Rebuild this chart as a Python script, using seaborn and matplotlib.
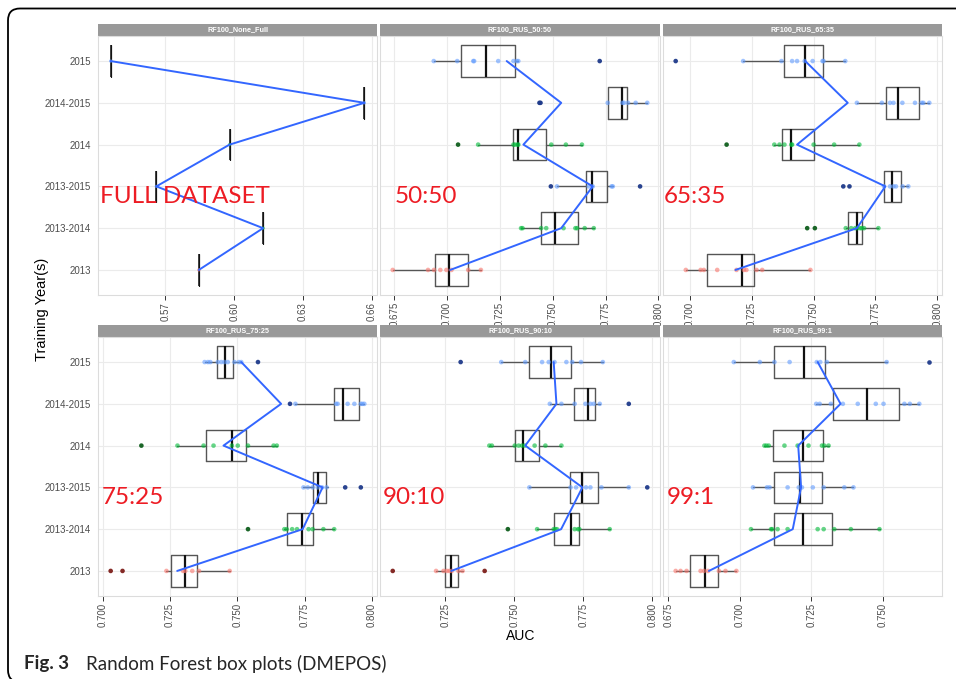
import numpy as np
import pandas as pd
import matplotlib
matplotlib.use("Agg")
import matplotlib.pyplot as plt
import seaborn as sns
from matplotlib.patches import Rectangle, FancyBboxPatch
from matplotlib.ticker import FixedLocator, MultipleLocator, FormatStrFormatter

# Training windows, listed from the top row of each panel to the bottom row
years = ["2015", "2014-2015", "2014", "2013-2015", "2013-2014", "2013"]
panels = ["RF100_None_Full", "RF100_RUS_50:50", "RF100_RUS_65:35",
          "RF100_RUS_75:25", "RF100_RUS_90:10", "RF100_RUS_99:1"]
ratio_tags = ["FULL DATASET", "50:50", "65:35", "75:25", "90:10", "99:1"]

# Full (non-sampled) dataset: a single AUC per training window
full_auc = [0.5462, 0.6567, 0.5980, 0.5661, 0.6126, 0.5846]

# Box statistics per sampling ratio (same row order as `years`)
whisker_lo = {
    "RF100_RUS_50:50": [0.6937, 0.7760, 0.7147, 0.7520, 0.7350, 0.6743],
    "RF100_RUS_65:35": [0.7215, 0.7675, 0.7341, 0.7784, 0.7630, 0.6983],
    "RF100_RUS_75:25": [0.7379, 0.7716, 0.7278, 0.7746, 0.7675, 0.7237],
    "RF100_RUS_90:10": [0.7453, 0.7629, 0.7410, 0.7555, 0.7583, 0.7217],
    "RF100_RUS_99:1":  [0.6979, 0.7267, 0.7086, 0.7046, 0.7039, 0.6776],
}
quart_1 = {
    "RF100_RUS_50:50": [0.7068, 0.7760, 0.7314, 0.7657, 0.7445, 0.6945],
    "RF100_RUS_65:35": [0.7379, 0.7792, 0.7372, 0.7784, 0.7638, 0.7070],
    "RF100_RUS_75:25": [0.7425, 0.7858, 0.7385, 0.7783, 0.7685, 0.7253],
    "RF100_RUS_90:10": [0.7555, 0.7718, 0.7502, 0.7701, 0.7644, 0.7248],
    "RF100_RUS_99:1":  [0.7118, 0.7327, 0.7116, 0.7121, 0.7118, 0.6826],
}
median = {
    "RF100_RUS_50:50": [0.7184, 0.7829, 0.7334, 0.7686, 0.7512, 0.7008],
    "RF100_RUS_65:35": [0.7464, 0.7843, 0.7410, 0.7816, 0.7677, 0.7211],
    "RF100_RUS_75:25": [0.7453, 0.7894, 0.7480, 0.7799, 0.7741, 0.7307],
    "RF100_RUS_90:10": [0.7635, 0.7767, 0.7532, 0.7745, 0.7704, 0.7272],
    "RF100_RUS_99:1":  [0.7223, 0.7444, 0.7221, 0.7209, 0.7221, 0.6880],
}
quart_3 = {
    "RF100_RUS_50:50": [0.7322, 0.7849, 0.7467, 0.7757, 0.7618, 0.7100],
    "RF100_RUS_65:35": [0.7538, 0.7927, 0.7501, 0.7852, 0.7695, 0.7259],
    "RF100_RUS_75:25": [0.7486, 0.7954, 0.7533, 0.7830, 0.7780, 0.7352],
    "RF100_RUS_90:10": [0.7704, 0.7791, 0.7591, 0.7804, 0.7734, 0.7296],
    "RF100_RUS_99:1":  [0.7298, 0.7556, 0.7290, 0.7286, 0.7322, 0.6923],
}
whisker_hi = {
    "RF100_RUS_50:50": [0.7337, 0.7947, 0.7638, 0.7784, 0.7694, 0.7160],
    "RF100_RUS_65:35": [0.7628, 0.7968, 0.7685, 0.7883, 0.7762, 0.7487],
    "RF100_RUS_75:25": [0.7515, 0.7972, 0.7647, 0.7836, 0.7860, 0.7472],
    "RF100_RUS_90:10": [0.7821, 0.7810, 0.7671, 0.7915, 0.7846, 0.7313],
    "RF100_RUS_99:1":  [0.7513, 0.7627, 0.7313, 0.7397, 0.7488, 0.6988],
}
mean_auc = {
    "RF100_RUS_50:50": [0.7282, 0.7540, 0.7361, 0.7689, 0.7540, 0.7015],
    "RF100_RUS_65:35": [0.7466, 0.7638, 0.7433, 0.7790, 0.7675, 0.7184],
    "RF100_RUS_75:25": [0.7515, 0.7663, 0.7449, 0.7817, 0.7743, 0.7277],
    "RF100_RUS_90:10": [0.7643, 0.7653, 0.7540, 0.7747, 0.7670, 0.7272],
    "RF100_RUS_99:1":  [0.7272, 0.7352, 0.7204, 0.7214, 0.7185, 0.6892],
}

# Individual run AUCs
runs = {
    "RF100_RUS_50:50": [
        [0.6937, 0.7048, 0.7124, 0.7128, 0.7242, 0.7314, 0.7330, 0.7337],
        [0.7760, 0.7829, 0.7837, 0.7856, 0.7892, 0.7947],
        [0.7147, 0.7314, 0.7322, 0.7334, 0.7337, 0.7493, 0.7562, 0.7638],
        [0.7520, 0.7670, 0.7689, 0.7778, 0.7784],
        [0.7350, 0.7357, 0.7445, 0.7469, 0.7551, 0.7607, 0.7615, 0.7651, 0.7694],
        [0.6743, 0.6910, 0.6938, 0.6968, 0.6997, 0.7021, 0.7100, 0.7160],
    ],
    "RF100_RUS_65:35": [
        [0.7215, 0.7370, 0.7413, 0.7433, 0.7464, 0.7496, 0.7536, 0.7540, 0.7628],
        [0.7675, 0.7776, 0.7809, 0.7823, 0.7859, 0.7910, 0.7937, 0.7944, 0.7968],
        [0.7341, 0.7362, 0.7382, 0.7410, 0.7413, 0.7500, 0.7583, 0.7685],
        [0.7785, 0.7809, 0.7823, 0.7833, 0.7860, 0.7883],
        [0.7630, 0.7652, 0.7668, 0.7677, 0.7688, 0.7695, 0.7704, 0.7762],
        [0.6983, 0.7043, 0.7056, 0.7110, 0.7188, 0.7218, 0.7228, 0.7269, 0.7292, 0.7487],
    ],
    "RF100_RUS_75:25": [
        [0.7379, 0.7391, 0.7400, 0.7428, 0.7441, 0.7453, 0.7465, 0.7490, 0.7506, 0.7515],
        [0.7716, 0.7867, 0.7873, 0.7910, 0.7935, 0.7959, 0.7965, 0.7972],
        [0.7278, 0.7375, 0.7412, 0.7480, 0.7502, 0.7540, 0.7635, 0.7647],
        [0.7746, 0.7762, 0.7780, 0.7799, 0.7815, 0.7832],
        [0.7675, 0.7684, 0.7704, 0.7722, 0.7765, 0.7780, 0.7820, 0.7860],
        [0.7237, 0.7299, 0.7307, 0.7333, 0.7358, 0.7472],
    ],
    "RF100_RUS_90:10": [
        [0.7453, 0.7540, 0.7601, 0.7625, 0.7646, 0.7689, 0.7710, 0.7742, 0.7821],
        [0.7629, 0.7671, 0.7719, 0.7758, 0.7776, 0.7788, 0.7810],
        [0.7410, 0.7419, 0.7502, 0.7516, 0.7528, 0.7538, 0.7574, 0.7613, 0.7671],
        [0.7555, 0.7704, 0.7724, 0.7760, 0.7776, 0.7816, 0.7915],
        [0.7583, 0.7643, 0.7649, 0.7655, 0.7719, 0.7731, 0.7736, 0.7846],
        [0.7217, 0.7244, 0.7256, 0.7265, 0.7274, 0.7298, 0.7313],
    ],
    "RF100_RUS_99:1": [
        [0.6979, 0.7070, 0.7121, 0.7174, 0.7269, 0.7281, 0.7304, 0.7513],
        [0.7267, 0.7279, 0.7318, 0.7360, 0.7412, 0.7475, 0.7502, 0.7575, 0.7594, 0.7627],
        [0.7086, 0.7093, 0.7101, 0.7156, 0.7202, 0.7240, 0.7287, 0.7295, 0.7310],
        [0.7046, 0.7095, 0.7104, 0.7167, 0.7206, 0.7217, 0.7255, 0.7293, 0.7365, 0.7397],
        [0.7039, 0.7109, 0.7113, 0.7132, 0.7167, 0.7272, 0.7293, 0.7330, 0.7388, 0.7488],
        [0.6776, 0.6793, 0.6814, 0.6863, 0.6875, 0.6889, 0.6927, 0.6950, 0.6988],
    ],
}
outlier_runs = {
    "RF100_RUS_50:50": [[0.7722], [0.7437, 0.7442], [0.7052], [0.7491, 0.7913], [], []],
    "RF100_RUS_65:35": [[0.6942], [], [0.7148], [0.7620, 0.7645], [0.7474, 0.7505], []],
    "RF100_RUS_75:25": [[0.7577], [0.7696], [0.7144], [0.7901, 0.7959], [0.7540], [0.7030, 0.7074]],
    "RF100_RUS_90:10": [[0.7306], [0.7915], [], [0.7982], [0.7477], [0.7060, 0.7393]],
    "RF100_RUS_99:1":  [[0.7662], [], [], [], [], []],
}

# Point colours per training window (light for runs, dark for outliers)
light_pal = {"2013": "#F8766D", "2013-2014": "#00BA38", "2014": "#00BA38",
             "2013-2015": "#619CFF", "2014-2015": "#619CFF", "2015": "#619CFF"}
dark_pal = {"2013": "#7E1E1A", "2013-2014": "#0E5E1C", "2014": "#0E5E1C",
            "2013-2015": "#1E3A8A", "2014-2015": "#1E3A8A", "2015": "#1E3A8A"}

tag_x = [0.007, 0.054, 0.004, 0.013, 0.011, 0.014]

sns.set_style("white")
plt.rcParams["font.family"] = ["Liberation Sans", "DejaVu Sans"]

W, H = 956, 679
fig = plt.figure(figsize=(W / 100, H / 100), dpi=100)

cols = [(98, 377), (380, 660), (663, 942)]
rows = [(36, 295), (337, 596)]
strip_h = 12

tick_col = "#4D4D4D"
pos = [5 - i for i in range(len(years))]


def make_ax(r, c):
    x0, x1 = cols[c]
    y0, y1 = rows[r]
    return fig.add_axes([x0 / W, 1 - y1 / H, (x1 - x0) / W, (y1 - y0) / H])


for k, name in enumerate(panels):
    r, c = divmod(k, 3)
    ax = make_ax(r, c)
    ph = rows[r][1] - rows[r][0]

    if name == "RF100_None_Full":
        lo = q1 = med = q3 = hi = full_auc
        means = full_auc
        pts = [[v] for v in full_auc]
        outs = [[] for _ in full_auc]
        box_col, pt_size, med_lw, box_lw = "#1A1A1A", 6, 1.1, 0.8
    else:
        lo, q1, med, q3, hi = (whisker_lo[name], quart_1[name], median[name],
                               quart_3[name], whisker_hi[name])
        means = mean_auc[name]
        pts = runs[name]
        outs = outlier_runs[name]
        box_col, pt_size, med_lw, box_lw = "#555555", 11, 1.6, 1.0

    stats = [dict(med=med[i], q1=q1[i], q3=q3[i], whislo=lo[i], whishi=hi[i],
                  fliers=[]) for i in range(len(years))]
    box_kw = dict(positions=pos, widths=0.75, showfliers=False, showcaps=False,
                  manage_ticks=False,
                  boxprops=dict(color=box_col, lw=box_lw),
                  whiskerprops=dict(color=box_col, lw=box_lw),
                  medianprops=dict(color="#111111", lw=med_lw))
    try:
        ax.bxp(stats, orientation="horizontal", **box_kw)
    except TypeError:
        ax.bxp(stats, vert=False, **box_kw)

    run_df = pd.DataFrame([(y, p, v) for y, p, vals in zip(years, pos, pts) for v in vals],
                          columns=["year", "pos", "auc"])
    sns.scatterplot(data=run_df, x="auc", y="pos", hue="year", palette=light_pal,
                    s=pt_size, alpha=0.6, linewidth=0, legend=False, ax=ax, zorder=3)
    out_df = pd.DataFrame([(y, p, v) for y, p, vals in zip(years, pos, outs) for v in vals],
                          columns=["year", "pos", "auc"])
    if len(out_df):
        sns.scatterplot(data=out_df, x="auc", y="pos", hue="year", palette=dark_pal,
                        s=pt_size, alpha=0.95, linewidth=0, legend=False, ax=ax, zorder=3)

    sns.lineplot(x=means, y=pos, sort=False, estimator=None, orient="y",
                 color="#3366FF", lw=1.4, ax=ax, zorder=4)

    # x limits with a 5% margin around everything drawn
    every = list(lo) + list(hi) + list(means) + [v for o in outs for v in o]
    vmin, vmax = min(every), max(every)
    pad = 0.05 * (vmax - vmin)
    ax.set_xlim(vmin - pad, vmax + pad)
    ax.set_ylim(-0.6, 5.6)

    if name == "RF100_None_Full":
        ax.xaxis.set_major_locator(FixedLocator([0.57, 0.60, 0.63, 0.66]))
        ax.xaxis.set_major_formatter(FormatStrFormatter("%.2f"))
    else:
        ax.xaxis.set_major_locator(MultipleLocator(0.025))
        ax.xaxis.set_major_formatter(FormatStrFormatter("%.3f"))

    ax.set_yticks(pos)
    if c == 0:
        ax.set_yticklabels(years)
        ax.tick_params(axis="y", length=3.5, width=0.7, color="#333333",
                       labelsize=7, labelcolor=tick_col, pad=1.5)
    else:
        ax.tick_params(axis="y", length=0, labelleft=False)
    ax.tick_params(axis="x", length=3.5, width=0.7, color="#333333", labelsize=7,
                   labelcolor=tick_col, labelrotation=90, pad=1.5, bottom=True)
    ax.set_xlabel("")
    ax.set_ylabel("")

    ax.grid(True, color="#EBEBEB", lw=0.8)
    ax.set_axisbelow(True)
    for sp in ax.spines.values():
        sp.set_color("#DCDCDC")
        sp.set_linewidth(0.8)

    # facet strip
    ax.add_patch(Rectangle((0, 1), 1, strip_h / ph, transform=ax.transAxes,
                           facecolor="#999999", edgecolor="none", clip_on=False))
    ax.text(0.5, 1 + strip_h / ph / 2, name, transform=ax.transAxes, ha="center",
            va="center", color="white", fontsize=5.2, fontweight="bold")

    # sampling ratio tag
    ax.text(tag_x[k], 1.75, ratio_tags[k], transform=ax.get_yaxis_transform(),
            ha="left", va="center", color="#ED1C24", fontsize=17.5, family="Lato",
            zorder=5)

fig.text(42 / W, 1 - 309 / H, "Training Year(s)", rotation=90, ha="center",
         va="center", fontsize=10.5, color="black")
fig.text(521 / W, 1 - 636 / H, "AUC", ha="center", va="center", fontsize=10,
         color="black")

fig.text(24 / W, 1 - 664 / H, "Fig. 3", ha="left", va="center", fontsize=13.5,
         fontweight="bold", family="Lato")
fig.text(86 / W, 1 - 664 / H, "Random Forest box plots (DMEPOS)", ha="left",
         va="center", fontsize=13.5, family="Lato")

# rounded outer frame
frame = FancyBboxPatch((8, -3), W + 40, H - 8 + 3 - 0.5,
                       boxstyle="round,pad=0,rounding_size=12",
                       transform=None, facecolor="none", edgecolor="black", lw=1.3)
fig.add_artist(frame)

fig.savefig("out.png", dpi=100)
